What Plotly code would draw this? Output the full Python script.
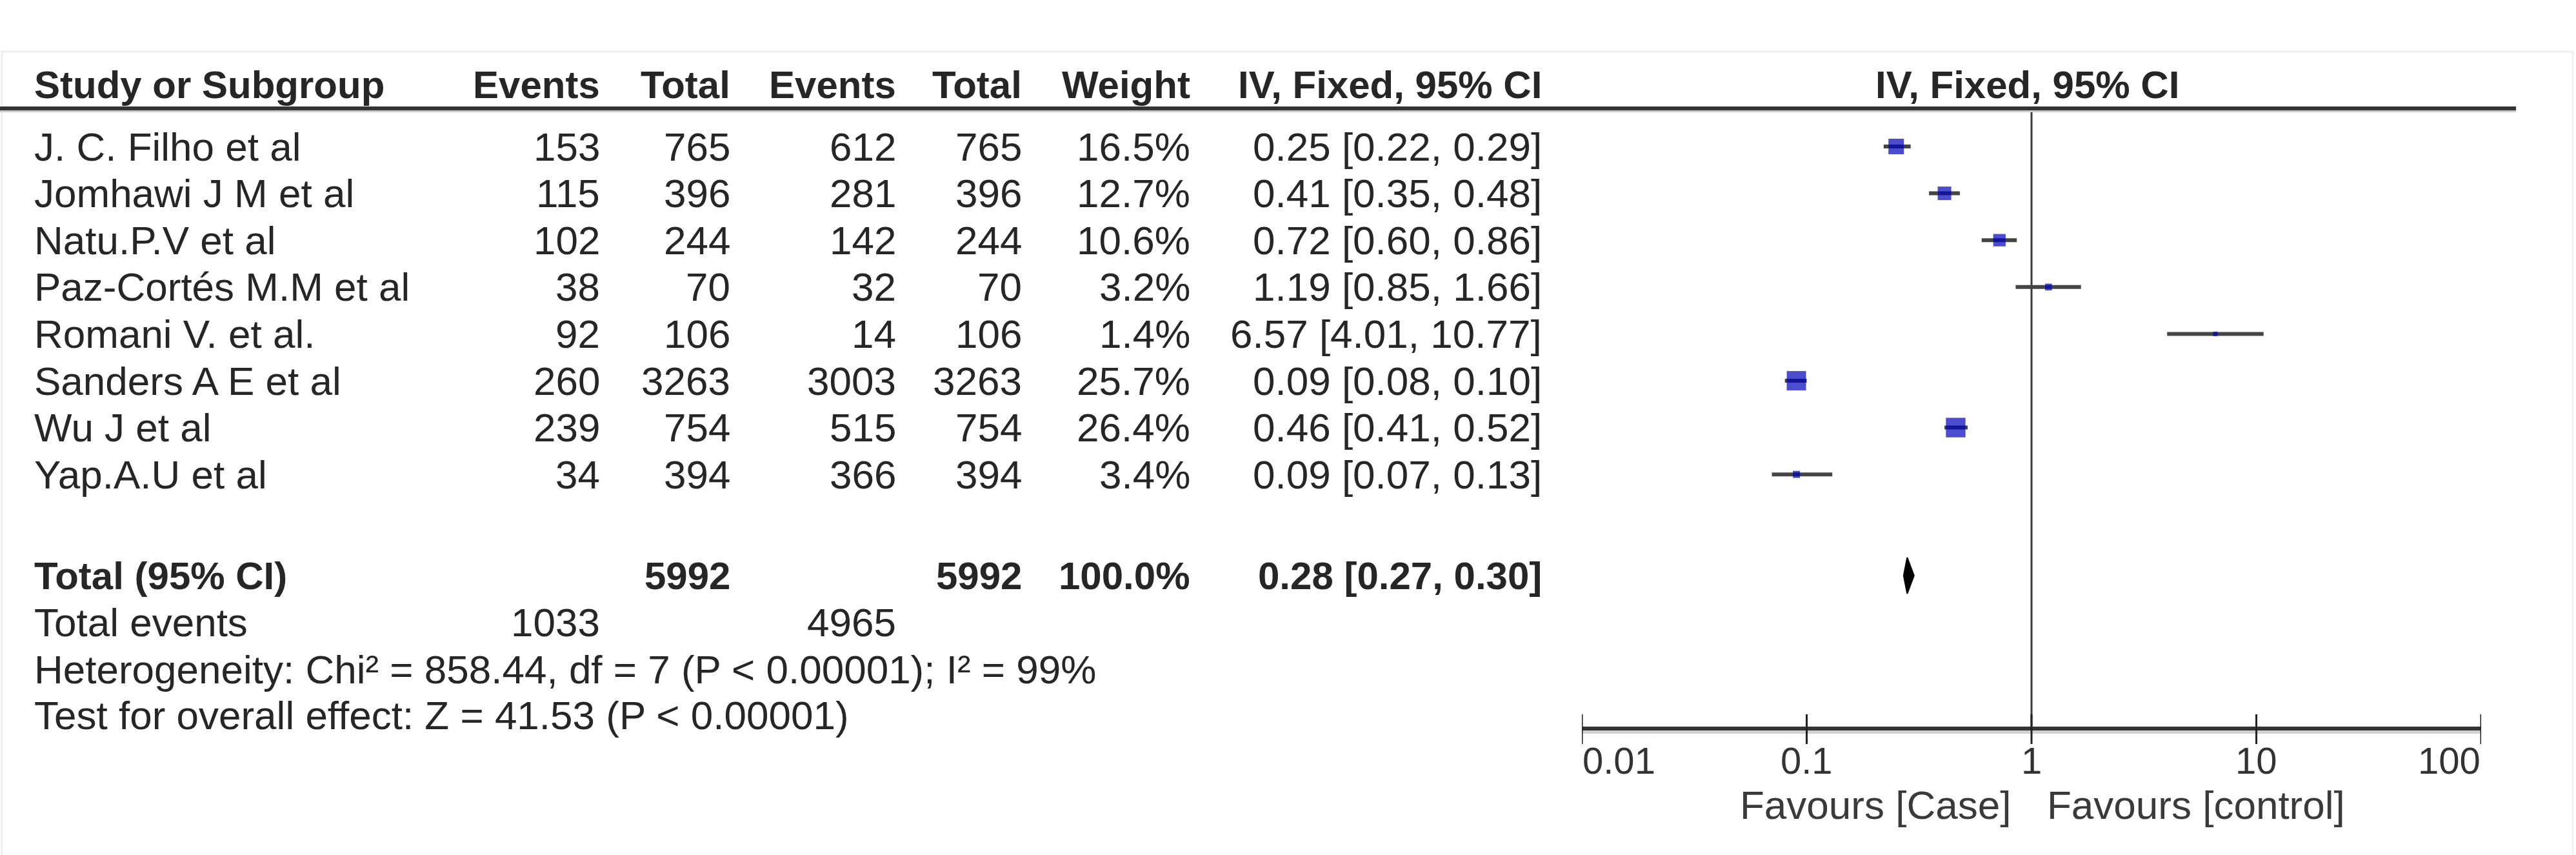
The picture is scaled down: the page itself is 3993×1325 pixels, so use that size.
import math
import plotly.graph_objects as go

# ---------------- data ----------------
studies = ["J. C. Filho et al", "Jomhawi J M et al", "Natu.P.V et al", "Paz-Cortés M.M et al",
           "Romani V. et al.", "Sanders A E et al", "Wu J et al", "Yap.A.U et al"]
case_events = [153, 115, 102, 38, 92, 260, 239, 34]
case_total = [765, 396, 244, 70, 106, 3263, 754, 394]
ctrl_events = [612, 281, 142, 32, 14, 3003, 515, 366]
ctrl_total = [765, 396, 244, 70, 106, 3263, 754, 394]
weight = [16.5, 12.7, 10.6, 3.2, 1.4, 25.7, 26.4, 3.4]
or_est = [0.25, 0.41, 0.72, 1.19, 6.57, 0.09, 0.46, 0.09]
ci_lo = [0.22, 0.35, 0.60, 0.85, 4.01, 0.08, 0.41, 0.07]
ci_hi = [0.29, 0.48, 0.86, 1.66, 10.77, 0.10, 0.52, 0.13]

total_case = 5992
total_ctrl = 5992
total_weight = 100.0
pooled_or = 0.28
pooled_lo = 0.27
pooled_hi = 0.30
total_events_case = 1033
total_events_ctrl = 4965

header_cols = ["Study or Subgroup", "Events", "Total", "Events", "Total", "Weight", "IV, Fixed, 95% CI"]
plot_header = "IV, Fixed, 95% CI"
tick_vals = [0.01, 0.1, 1, 10, 100]
tick_text = ["0.01", "0.1", "1", "10", "100"]
favours_left = "Favours [Case]"
favours_right = "Favours [control]"
heterogeneity = "Heterogeneity: Chi² = 858.44, df = 7 (P < 0.00001); I² = 99%"
overall = "Test for overall effect: Z = 41.53 (P < 0.00001)"

# ---------------- layout (pixels) ----------------
W, H = 3993, 1325
FONT = "Liberation Sans, Arial, sans-serif"
TXT = "#262626"
FS = 62
FSB = 60

col_label_x = 52
col_right = [931, 1133, 1390, 1585, 1846, 2391]
plot_left_px, plot_right_px = 2452, 3846

header_y = 131
header_line_y = 168
row0_y = 227
row_step = 72.6
total_y = 892
tev_y = 964
het_y = 1037
test_y = 1108
axis_y = 1130
tick_half = 23
ticklab_y = 1178
fav_y = 1247

row_y = [row0_y + i * row_step for i in range(len(studies))]

fig = go.Figure()

annotations = []


def px(x):
    return x / W


def add_text(text, x, y, anchor, bold=False, size=None, color=TXT, xref="paper"):
    annotations.append(dict(
        text=f"<b>{text}</b>" if bold else text,
        x=px(x) if xref == "paper" else x, y=y, xref=xref, yref="y",
        xanchor=anchor, yanchor="middle", showarrow=False,
        font=dict(family=FONT, size=size or (FSB if bold else FS), color=color),
        borderpad=0,
    ))


# header
add_text(header_cols[0], col_label_x, header_y, "left", bold=True)
for txt, xr in zip(header_cols[1:], col_right):
    add_text(txt, xr, header_y, "right", bold=True)
add_text(plot_header, 3142, header_y, "center", bold=True)

# study rows
for i, s in enumerate(studies):
    y = row_y[i]
    add_text(s, col_label_x, y, "left")
    vals = [str(case_events[i]), str(case_total[i]), str(ctrl_events[i]), str(ctrl_total[i]),
            f"{weight[i]:.1f}%", f"{or_est[i]:.2f} [{ci_lo[i]:.2f}, {ci_hi[i]:.2f}]"]
    for v, xr in zip(vals, col_right):
        add_text(v, xr, y, "right")

# total row
add_text("Total (95% CI)", col_label_x, total_y, "left", bold=True)
add_text(str(total_case), col_right[1], total_y, "right", bold=True)
add_text(str(total_ctrl), col_right[3], total_y, "right", bold=True)
add_text(f"{total_weight:.1f}%", col_right[4], total_y, "right", bold=True)
add_text(f"{pooled_or:.2f} [{pooled_lo:.2f}, {pooled_hi:.2f}]", col_right[5], total_y, "right", bold=True)

add_text("Total events", col_label_x, tev_y, "left")
add_text(str(total_events_case), col_right[0], tev_y, "right")
add_text(str(total_events_ctrl), col_right[2], tev_y, "right")
add_text(heterogeneity, col_label_x, het_y, "left")
add_text(overall, col_label_x, test_y, "left")

# tick labels on the log axis (annotation x in log10 units)
for v, t in zip(tick_vals, tick_text):
    anchor = "left" if v == tick_vals[0] else ("right" if v == tick_vals[-1] else "center")
    add_text(t, math.log10(v), ticklab_y, anchor, xref="x", size=58, color="#333333")

add_text(favours_left, 3118, fav_y, "right", color="#3a3a3a", size=62)
add_text(favours_right, 3172, fav_y, "left", color="#3a3a3a", size=62)

# ---------------- forest plot traces ----------------
# vertical line of no effect
fig.add_trace(go.Scatter(x=[1, 1], y=[header_line_y, axis_y], mode="lines",
                         line=dict(color="#3c3c3c", width=3), hoverinfo="skip", showlegend=False))

# CI lines
ci_x, ci_y = [], []
for lo, hi, y in zip(ci_lo, ci_hi, row_y):
    ci_x += [lo, hi, None]
    ci_y += [y, y, None]
fig.add_trace(go.Scatter(x=ci_x, y=ci_y, mode="lines",
                         line=dict(color="#454545", width=6), hoverinfo="skip", showlegend=False))

# squares (area proportional to weight)
fig.add_trace(go.Scatter(x=or_est, y=row_y, mode="markers",
                         marker=dict(symbol="square", color="#0000bb",
                                     size=[5.9 * math.sqrt(w) for w in weight],
                                     line=dict(width=0)),
                         hoverinfo="skip", showlegend=False))

# pooled diamond
dh = 28
fig.add_trace(go.Scatter(x=[pooled_lo, pooled_or, pooled_hi, pooled_or, pooled_lo],
                         y=[total_y, total_y - dh, total_y, total_y + dh, total_y],
                         mode="lines", fill="toself", fillcolor="#000000",
                         line=dict(color="#000000", width=2), hoverinfo="skip", showlegend=False))

# axis line and ticks
fig.add_trace(go.Scatter(x=[tick_vals[0], tick_vals[-1]], y=[axis_y + 2, axis_y + 2], mode="lines",
                         line=dict(color="#d2d2d2", width=10), hoverinfo="skip", showlegend=False))
fig.add_trace(go.Scatter(x=[tick_vals[0], tick_vals[-1]], y=[axis_y - 1, axis_y - 1], mode="lines",
                         line=dict(color="#333333", width=6), hoverinfo="skip", showlegend=False))
tx, ty = [], []
for v in tick_vals:
    tx += [v, v, None]
    ty += [axis_y - tick_half, axis_y + tick_half, None]
fig.add_trace(go.Scatter(x=tx, y=ty, mode="lines",
                         line=dict(color="#222222", width=3), hoverinfo="skip", showlegend=False))

shapes = [
    # faint frame
    dict(type="rect", xref="paper", yref="y", x0=px(3), x1=px(3988), y0=80, y1=H + 5,
         line=dict(color="#f0f0f0", width=3), fillcolor="rgba(0,0,0,0)", layer="below"),
    # header rule
    dict(type="line", xref="paper", yref="y", x0=0, x1=px(3900), y0=header_line_y + 3, y1=header_line_y + 3,
         line=dict(color="#cccccc", width=6)),
    dict(type="line", xref="paper", yref="y", x0=0, x1=px(3900), y0=header_line_y, y1=header_line_y,
         line=dict(color="#333333", width=6)),
]

fig.update_layout(
    width=W, height=H, autosize=False,
    margin=dict(l=0, r=0, t=0, b=0, pad=0),
    paper_bgcolor="white", plot_bgcolor="white",
    xaxis=dict(type="log", range=[math.log10(tick_vals[0]), math.log10(tick_vals[-1])],
               domain=[px(plot_left_px), px(plot_right_px)], visible=False, fixedrange=True),
    yaxis=dict(range=[H, 0], domain=[0, 1], visible=False, fixedrange=True),
    annotations=annotations,
    shapes=shapes,
    showlegend=False,
)

fig.write_html("out.html")
